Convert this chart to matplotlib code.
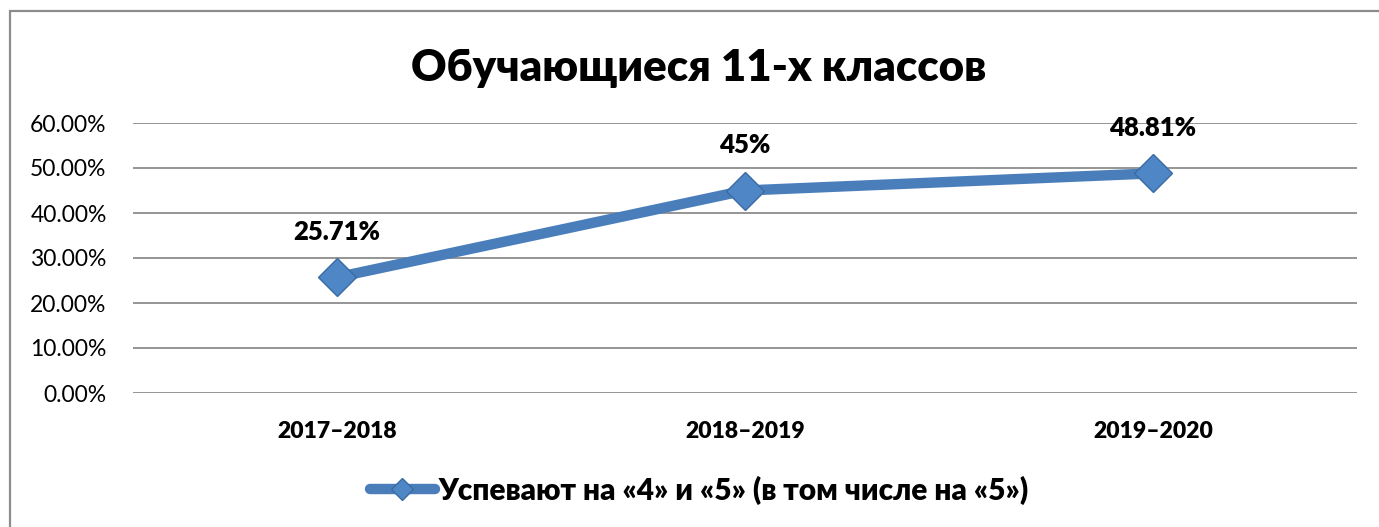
import matplotlib
matplotlib.use("Agg")
import matplotlib.pyplot as plt
from matplotlib.ticker import PercentFormatter
from matplotlib.patches import Rectangle

plt.rcParams['font.family'] = ['Lato', 'DejaVu Sans']

categories = ["2017–2018", "2018–2019", "2019–2020"]
values = [25.71, 45.0, 48.81]
labels = ["25.71%", "45%", "48.81%"]
series_name = "Успевают на «4» и «5» (в том числе на «5»)"
title = "Обучающиеся 11-х классов"
yticks = [0, 10, 20, 30, 40, 50, 60]

W, H = 1379, 527
fig = plt.figure(figsize=(W / 100, H / 100), dpi=100)
fig.patch.set_facecolor('white')

# outer border
fig.add_artist(Rectangle((10 / W, -0.05), 1.2, (H - 11) / H + 0.05, transform=fig.transFigure,
                         fill=False, edgecolor='#8c8c8c', linewidth=1.6))

ax = fig.add_axes([133 / W, (H - 393) / H, (1357 - 133) / W, (393 - 123) / H])
x = list(range(len(categories)))
color = '#4A7EBB'
line, = ax.plot(x, values, color=color, linewidth=7.5, marker='D', markersize=19,
                markerfacecolor='#4F86C6', markeredgecolor='#3A6BA5', markeredgewidth=1.0,
                solid_capstyle='round', label=series_name, zorder=3)

for xi, v, lab in zip(x, values, labels):
    ax.annotate(lab, (xi, v), xytext=(0, 32.5), textcoords='offset points',
                ha='center', va='center', fontsize=18.5, fontweight='heavy', color='black')

ax.set_xlim(-0.5, 2.5)
ax.set_ylim(0, 60)
ax.set_yticks(yticks)
ax.yaxis.set_major_formatter(PercentFormatter(decimals=2))
ax.set_xticks(x)
ax.set_xticklabels(categories, fontsize=16.5, fontweight='heavy')
ax.tick_params(axis='y', labelsize=16.5, length=0, pad=19)
ax.tick_params(axis='x', length=0, pad=20)
ax.grid(axis='y', color='#8c8c8c', linewidth=1.3)
ax.set_axisbelow(True)
for s in ax.spines.values():
    s.set_visible(False)

fig.text(699 / W, (H - 68) / H, title, ha='center', va='center', fontsize=31.5, fontweight='heavy')

fig.legend(handles=[line], loc='center', bbox_to_anchor=(699 / W, (H - 490) / H),
           frameon=False, prop={'size': 21.5, 'weight': 'heavy'}, handlelength=2.2,
           handletextpad=0.1, markerscale=0.6)

fig.savefig('out.png', dpi=100, facecolor='white')
